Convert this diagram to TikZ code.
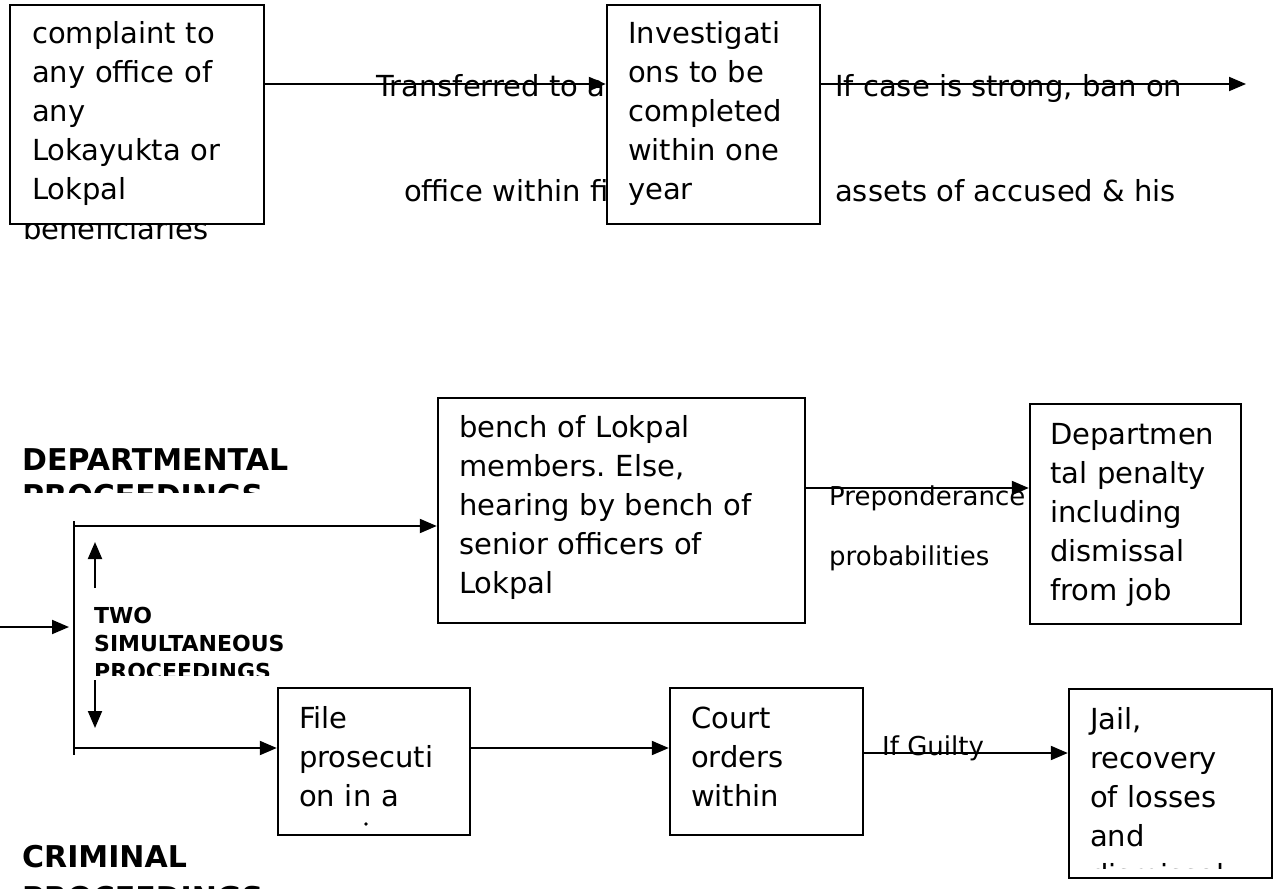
\documentclass[tikz,border=0pt]{standalone}
\usepackage{fontspec}
\setmainfont{DejaVu Sans}
\usetikzlibrary{arrows.meta}
\frenchspacing

\tikzset{
  box/.style={draw, line width=2.4pt, fill=white, inner sep=0pt},
  boxtext/.style={anchor=base west, align=left, text width=300pt, inner sep=0pt,
                  font=\fontsize{29}{39}\selectfont},
  lbl/.style={anchor=base west, inner sep=0pt, font=\fontsize{29}{35}\selectfont},
  smalllbl/.style={anchor=base west, inner sep=0pt, font=\fontsize{26}{30}\selectfont},
  heading/.style={anchor=base west, align=left, text width=400pt, inner sep=0pt,
                  font=\bfseries\fontsize{30}{36}\selectfont},
  subhead/.style={anchor=base west, align=left, text width=300pt, inner sep=0pt,
                  font=\bfseries\fontsize{22}{28}\selectfont},
  flow/.style={line width=2pt, -{Triangle[length=17pt, width=14pt]}},
}

\begin{document}
\begin{tikzpicture}[x=1pt, y=-1pt]
  \useasboundingbox (0,0) rectangle (1273,888);

  % labels on the top arrows (the boxes cover their ends)
  \node[lbl] (transfer1) at (376,97) {Transferred to a};
  \node[lbl] (transfer2) at (404,201) {office within fi};
  \node[lbl] (ban1) at (835,97) {If case is strong, ban on};
  \node[lbl] (ban2) at (835,201) {assets of accused \& his};
  \node[smalllbl] (prepond1) at (829,505) {Preponderance};
  \node[smalllbl] (prepond2) at (829,565) {probabilities};
  \node[smalllbl] (guilty) at (882,755) {If Guilty};

  % top row
  \node[box, minimum width=254pt, minimum height=219pt] (complaint) at (137,114.5) {};
  \node[boxtext] (complainttxt) at (32,44)
    {complaint to\\any office of\\any\\Lokayukta or\\Lokpal};
  \begin{scope}
    \clip (0,225) rectangle (300,242);
    \node[lbl] (benef) at (23,239) {beneficiaries};
  \end{scope}
  \node[box, minimum width=213pt, minimum height=219pt] (invest) at (713.5,114.5) {};
  \node[boxtext] (investtxt) at (628,44)
    {Investigati\\ons to be\\completed\\within one\\year};

  \draw[flow] (complaint.east |- 0,84) -- (invest.west |- 0,84);
  \coordinate (banend) at (1246,84);
  \draw[flow] (invest.east |- 0,84) -- (banend);

  % departmental proceedings
  \begin{scope}
    \clip (0,440) rectangle (420,492);
    \node[heading] (depthead) at (22,470) {DEPARTMENTAL\\PROCEEDINGS};
  \end{scope}
  \node[box, minimum width=367pt, minimum height=225pt] (bench) at (621.5,510.5) {};
  \node[boxtext] (benchtxt) at (459,437)
    {bench of Lokpal\\members. Else,\\hearing by bench of\\senior officers of\\Lokpal};
  \node[box, minimum width=211pt, minimum height=220pt] (penalty) at (1135.5,514) {};
  \node[boxtext] (penaltytxt) at (1050,444)
    {Departmen\\tal penalty\\including\\dismissal\\from job};
  \draw[flow] (bench.east |- 0,488) -- (penalty.west |- 0,488);

  % the fork
  \coordinate (forktop) at (74,521);
  \coordinate (forkbot) at (74,755);
  \coordinate (entry) at (0,627);
  \coordinate (entryend) at (69,627);
  \draw[line width=2pt] (forktop) -- (forkbot);
  \draw[flow] (entry) -- (entryend);
  \draw[flow] (forktop |- 0,526) -- (bench.west |- 0,526);

  \coordinate (upfoot) at (95,588);
  \coordinate (uptip) at (95,542);
  \coordinate (downfoot) at (95,680);
  \coordinate (downtip) at (95,728);
  \draw[flow] (upfoot) -- (uptip);
  \draw[flow] (downfoot) -- (downtip);
  \begin{scope}
    \clip (80,590) rectangle (330,675);
    \node[subhead] (twoproc) at (94,623) {TWO\\SIMULTANEOUS\\PROCEEDINGS};
  \end{scope}

  % criminal proceedings
  \node[box, minimum width=192pt, minimum height=147pt] (filing) at (374,761.5) {};
  \node[boxtext] (filingtxt) at (299,728) {File\\prosecuti\\on in a};
  \fill (366,824) circle (1.8pt);
  \node[box, minimum width=193pt, minimum height=147pt] (court) at (766.5,761.5) {};
  \node[boxtext] (courttxt) at (691,728) {Court\\orders\\within};
  \node[box, minimum width=203pt, minimum height=189pt] (jail) at (1170.5,783.5) {};
  \begin{scope}
    \clip (jail.north west) rectangle ([yshift=11pt]jail.south east);
    \node[boxtext] (jailtxt) at (1090,729)
      {Jail,\\recovery\\of losses\\and\\dismissal};
  \end{scope}

  \draw[flow] (forktop |- 0,748) -- (filing.west |- 0,748);
  \draw[flow] (filing.east |- 0,748) -- (court.west |- 0,748);
  \draw[flow] (court.east |- 0,753) -- (jail.west |- 0,753);

  \node[heading] (crimhead) at (22,867) {CRIMINAL\\[5pt]PROCEEDINGS};
\end{tikzpicture}
\end{document}
